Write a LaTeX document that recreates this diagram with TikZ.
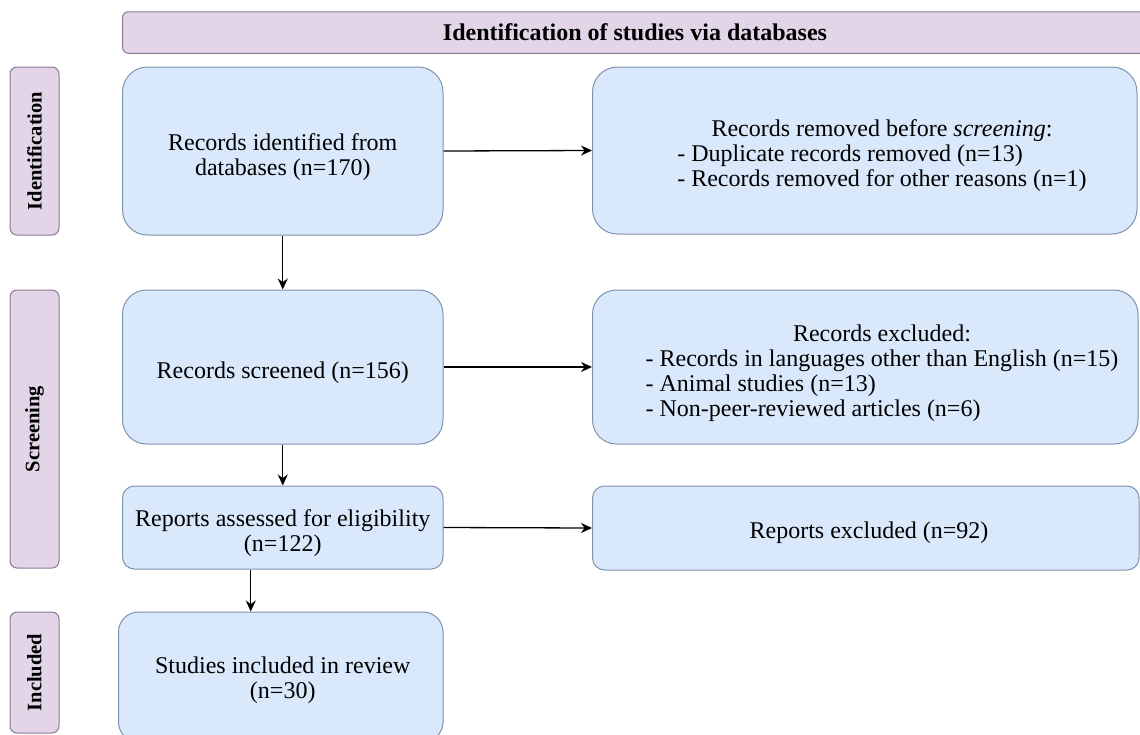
\documentclass[tikz,border=0pt]{standalone}
\usepackage{fontspec}
\setmainfont{Liberation Serif}
\usetikzlibrary{arrows.meta}
\definecolor{bluefill}{HTML}{DAE8FC}
\definecolor{bluedraw}{HTML}{7F93AE}
\definecolor{purfill}{HTML}{E1D5E7}
\definecolor{purdraw}{HTML}{8E7898}
\tikzset{
  bluebox/.style={draw=bluedraw, fill=bluefill, line width=1pt, align=center, inner sep=0pt},
  phasebox/.style={draw=purdraw, fill=purfill, line width=1pt, rounded corners=7pt, inner sep=0pt, minimum width=49pt},
  phasetext/.style={font=\bfseries\fontsize{20.5}{22}\selectfont, rotate=90},
  bodytext/.style={font=\fontsize{24}{25}\selectfont, align=center, inner sep=0pt},
  arr/.style={-{Stealth[length=11pt,width=10pt]}, line width=1.3pt, black}
}
\begin{document}
\begin{tikzpicture}[x=1pt,y=-1pt]
\useasboundingbox (0,0) rectangle (1140,734);
\fill[white] (0,0) rectangle (1140,734);
% header
\node[draw=purdraw, fill=purfill, line width=1pt, rounded corners=6pt, minimum width=1025pt, minimum height=41.5pt, inner sep=0pt, font=\bfseries\fontsize{24}{26}\selectfont] (hdr) at (635,32.5) {Identification of studies via databases};
% phase labels
\node[phasebox, minimum height=168pt] (pid) at (34.5,151) {};
\node[phasetext] (pidt) at (pid.center) {Identification};
\node[phasebox, minimum height=278pt] (psc) at (34.5,429) {};
\node[phasetext] (psct) at (psc.center) {Screening};
\node[phasebox, minimum height=121pt] (pin) at (34.5,672.5) {};
\node[phasetext] (pint) at (pin.center) {Included};
% boxes
\node[bluebox, rounded corners=25pt, minimum width=320.5pt, minimum height=168pt] (A) at (282.75,151) {};
\node[bodytext] (At) at (282.75,157.5) {Records identified from\\databases (n=170)};
\node[bluebox, rounded corners=25pt, minimum width=544.5pt, minimum height=167pt] (B) at (864.75,150.5) {};
\node[bodytext] (Bt) at (882,156) {\begin{tabular}{@{}l@{}}\multicolumn{1}{@{}c@{}}{Records removed before \emph{screening}:}\\- Duplicate records removed (n=13)\\- Records removed for other reasons (n=1)\end{tabular}};
\node[bluebox, rounded corners=24pt, minimum width=320.5pt, minimum height=154pt] (C) at (282.75,367) {};
\node[bodytext] (Ct) at (282.75,373) {Records screened (n=156)};
\node[bluebox, rounded corners=24pt, minimum width=545.5pt, minimum height=154pt] (F) at (865.25,367) {};
\node[bodytext] (Ft) at (882,373.5) {\begin{tabular}{@{}l@{}}\multicolumn{1}{@{}c@{}}{Records excluded:}\\- Records in languages other than English (n=15)\\- Animal studies (n=13)\\- Non-peer-reviewed articles (n=6)\end{tabular}};
\node[bluebox, rounded corners=12pt, minimum width=320.5pt, minimum height=83pt] (D) at (282.75,527.5) {};
\node[bodytext] (Dt) at (282.75,533.5) {Reports assessed for eligibility\\(n=122)};
\node[bluebox, rounded corners=12pt, minimum width=546.5pt, minimum height=84pt] (G) at (865.75,528) {};
\node[bodytext] (Gt) at (869,533) {Reports excluded (n=92)};
\node[bluebox, rounded corners=20pt, minimum width=324.5pt, minimum height=130pt] (E) at (280.75,677) {};
\node[bodytext] (Et) at (282.75,680.5) {Studies included in review\\(n=30)};
% arrows
\draw[arr] (A.east) -- (B.west);
\draw[arr] (A.south) -- (C.north);
\draw[arr] (C.east) -- (F.west);
\draw[arr] (C.south) -- (D.north);
\draw[arr] (D.east) -- (G.west);
\draw[arr] ([xshift=-32pt]D.south) -- ([xshift=-32pt]D.south |- E.north);
\end{tikzpicture}
\end{document}
